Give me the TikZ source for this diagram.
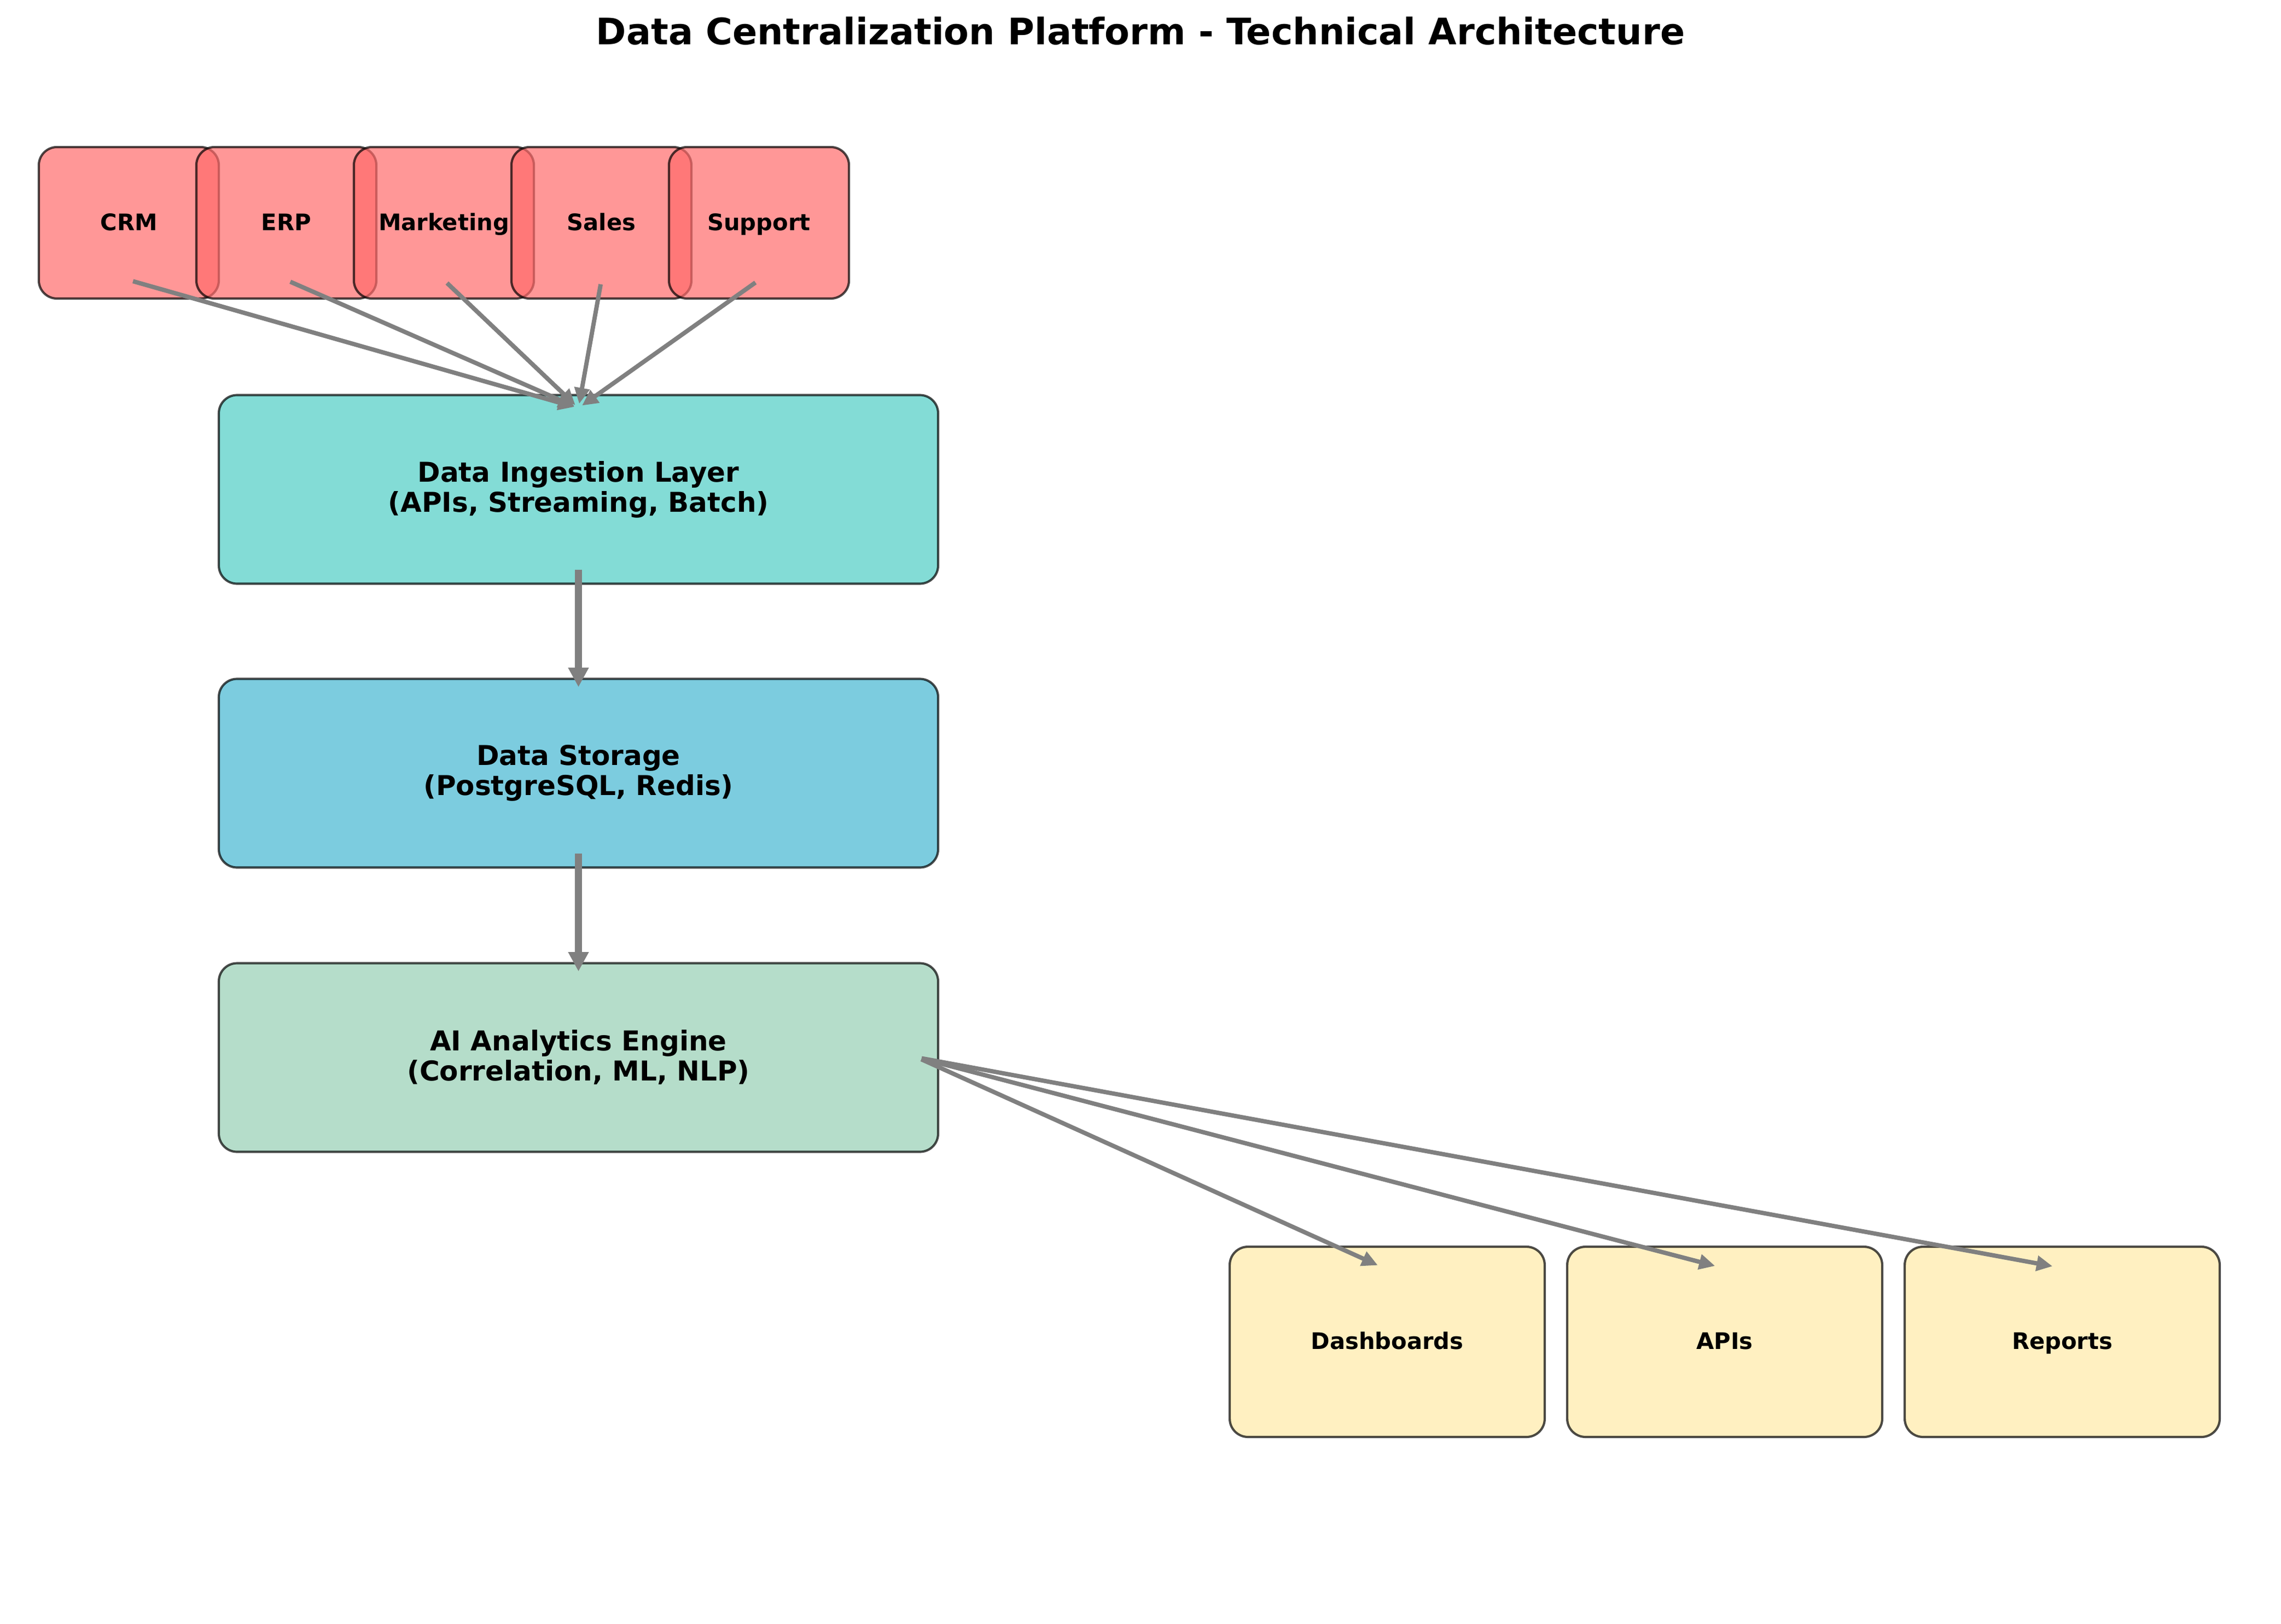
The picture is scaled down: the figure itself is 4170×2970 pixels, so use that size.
\documentclass[tikz,border=0pt]{standalone}
\usepackage{fontspec}
\setmainfont{DejaVu Sans}
\usetikzlibrary{arrows.meta}

\definecolor{srcred}{HTML}{FF6B6B}
\definecolor{ingteal}{HTML}{4ECDC4}
\definecolor{stoblue}{HTML}{45B7D1}
\definecolor{aigreen}{HTML}{96CEB4}
\definecolor{outyellow}{HTML}{FFEAA7}

\tikzset{
  box/.style={draw=black, line width=1pt, rounded corners=8pt, opacity=0.7, text opacity=1, align=center, inner sep=0pt},
  srcbox/.style={box, fill=srcred, minimum width=79pt, minimum height=66.5pt, text height=9pt, text depth=2.4pt,
    font=\fontsize{10}{12}\selectfont\bfseries},
  layer/.style={box, minimum width=315.6pt, minimum height=82.8pt, font=\fontsize{12}{13.2}\selectfont\bfseries},
  outbox/.style={box, fill=outyellow, minimum width=138.2pt, minimum height=83.5pt, text height=9pt, text depth=2.4pt,
    font=\fontsize{10}{12}\selectfont\bfseries},
  flow/.style={draw=gray, line width=1.9pt, -{Triangle[length=7pt,width=6.5pt]}, shorten <=1.9pt, shorten >=1.9pt},
  flowthick/.style={flow, line width=3pt, -{Triangle[length=8.5pt,width=8.5pt]}}
}

\begin{document}
\begin{tikzpicture}[x=0.24pt, y=-0.24pt]
  \useasboundingbox (0,0) rectangle (4170,2970);
  \node[anchor=base, font=\fontsize{16}{19}\selectfont\bfseries] (title) at (2085,82)
    {Data Centralization Platform - Technical Architecture};
  % sources
  \foreach \name/\lbl [count=\i from 0] in {crm/CRM, erp/ERP, mkt/Marketing, sales/Sales, sup/Support}
    \node[srcbox] (\name) at (235.5+288*\i, 407.5) {\lbl};
  % layers
  \node[layer, fill=ingteal] (ing) at (1057.5,895) {Data Ingestion Layer\\(APIs, Streaming, Batch)};
  \node[layer, fill=stoblue] (sto) at (1057.5,1414) {Data Storage\\(PostgreSQL, Redis)};
  \node[layer, fill=aigreen] (ai) at (1057.5,1934) {AI Analytics Engine\\(Correlation, ML, NLP)};
  % outputs
  \foreach \name/\lbl [count=\i from 0] in {dash/Dashboards, api/APIs, rep/Reports}
    \node[outbox] (\name) at (2536+617*\i, 2454) {\lbl};
  % flows
  \foreach \name in {crm, erp, mkt, sales, sup}
    \draw[flow] ([yshift=8.64pt]\name.south) -- ([yshift=-6.2pt]ing.north);
  \draw[flowthick] ([yshift=8.64pt]ing.south) -- ([yshift=-6pt]sto.north);
  \draw[flowthick] ([yshift=8.64pt]sto.south) -- ([yshift=-6pt]ai.north);
  \foreach \name in {dash, api, rep}
    \draw[flow] ([xshift=-9.6pt]ai.east) -- ([xshift=-2.4pt, yshift=-9.4pt]\name.north);
\end{tikzpicture}
\end{document}
